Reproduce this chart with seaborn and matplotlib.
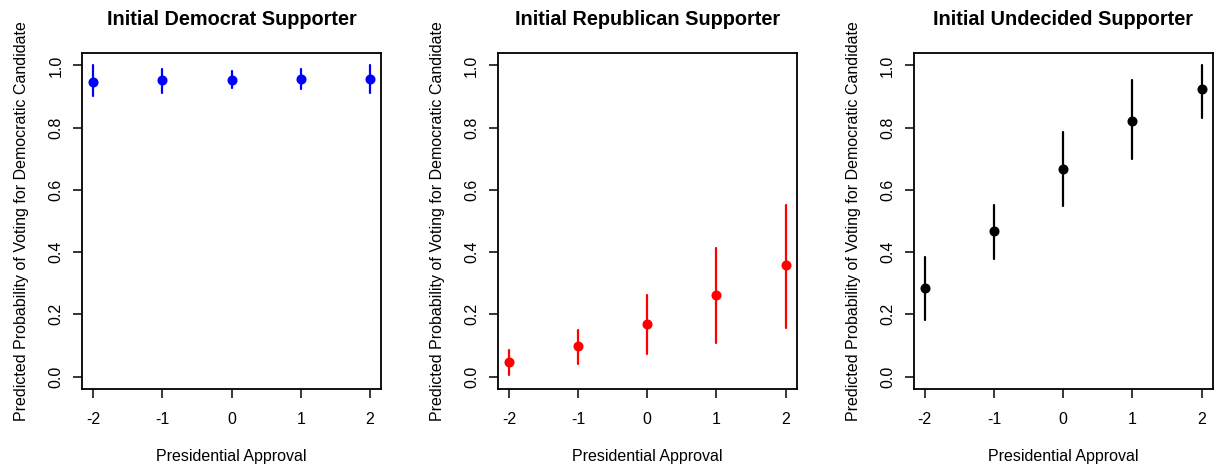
import numpy as np
import pandas as pd
import matplotlib
matplotlib.use("Agg")
import matplotlib.pyplot as plt
import seaborn as sns

approval = [-2, -1, 0, 1, 2]

dem_est = [0.948, 0.952, 0.952, 0.957, 0.957]
dem_lo = [0.901, 0.911, 0.927, 0.923, 0.911]
dem_hi = [1.000, 0.987, 0.982, 0.987, 1.000]

rep_est = [0.048, 0.097, 0.170, 0.261, 0.358]
rep_lo = [0.006, 0.041, 0.074, 0.108, 0.157]
rep_hi = [0.084, 0.151, 0.263, 0.414, 0.552]

und_est = [0.286, 0.468, 0.667, 0.822, 0.924]
und_lo = [0.182, 0.379, 0.549, 0.698, 0.830]
und_hi = [0.383, 0.552, 0.785, 0.954, 1.000]

titles = ["Initial Democrat Supporter", "Initial Republican Supporter",
          "Initial Undecided Supporter"]
colors = ["#0000FF", "#FF0000", "#000000"]
ytick_vals = [0.0, 0.2, 0.4, 0.6, 0.8, 1.0]
ytick_labels = ["0.0", "0.2", "0.4", "0.6", "0.8", "1.0"]
xlabel = "Presidential Approval"
ylabel = "Predicted Probability of Voting for Democratic Candidate"

series = [(dem_est, dem_lo, dem_hi), (rep_est, rep_lo, rep_hi), (und_est, und_lo, und_hi)]

sns.set_style("ticks")
plt.rcParams["font.family"] = ["Liberation Sans", "DejaVu Sans"]
plt.rcParams["text.color"] = "black"
plt.rcParams["axes.labelcolor"] = "black"
plt.rcParams["xtick.color"] = "black"
plt.rcParams["ytick.color"] = "black"

fig = plt.figure(figsize=(12.17, 4.67), dpi=100)
lefts = [0.0674, 0.409, 0.7508]
W, B, H = 0.2457, 0.167, 0.7195
FS = 11.5

for i, (est, lo, hi) in enumerate(series):
    ax = fig.add_axes([lefts[i], B, W, H])
    rows = []
    for x, e, l, h in zip(approval, est, lo, hi):
        rows += [{"x": x, "p": l}, {"x": x, "p": e}, {"x": x, "p": h}]
    df = pd.DataFrame(rows)
    sns.pointplot(data=df, x="x", y="p", estimator="median",
                  errorbar=("pi", 100), native_scale=True, linestyle="none",
                  color=colors[i], marker="o", markersize=5.2,
                  err_kws={"linewidth": 1.6}, ax=ax)
    ax.set_xlim(-2.16, 2.16)
    ax.set_ylim(-0.04, 1.04)
    ax.set_xticks(approval)
    ax.set_xticklabels([str(v) for v in approval], fontsize=FS)
    ax.set_yticks(ytick_vals)
    ax.set_yticklabels(ytick_labels, fontsize=FS, rotation=90, va="center")
    ax.tick_params(axis="both", direction="out", length=6.5, width=1.1,
                   color="black")
    ax.tick_params(axis="x", pad=10)
    ax.tick_params(axis="y", pad=7)
    for s in ax.spines.values():
        s.set_visible(True)
        s.set_color("black")
        s.set_linewidth(1.3)
    ax.set_title(titles[i], fontsize=14.3, fontweight="bold", pad=20.5)
    ax.set_xlabel(xlabel, fontsize=FS, labelpad=16)
    ax.set_ylabel(ylabel, fontsize=FS, labelpad=14)

fig.savefig("out.png", dpi=100)
